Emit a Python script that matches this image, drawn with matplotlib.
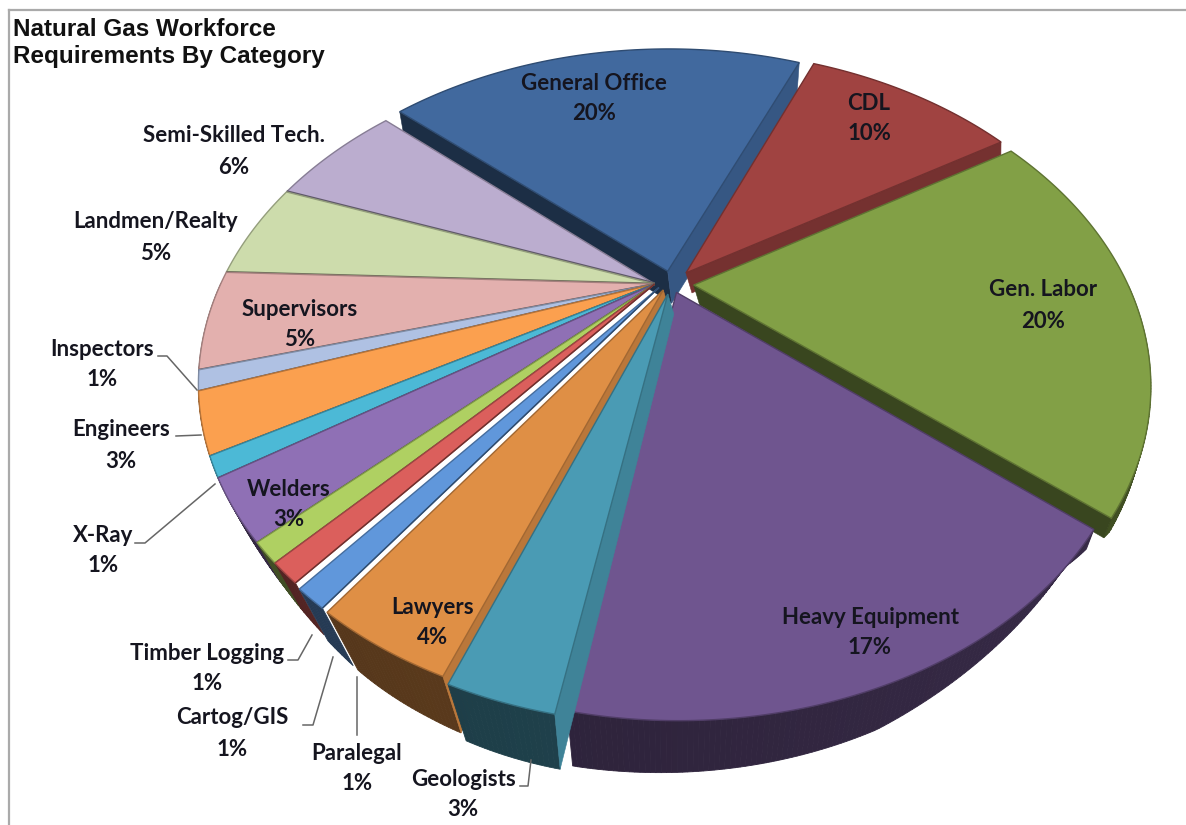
import numpy as np
import matplotlib
matplotlib.use("Agg")
import matplotlib.pyplot as plt
from matplotlib.patches import Polygon
from matplotlib.colors import to_rgb

# ---- data ----
categories = ["General Office", "CDL", "Gen. Labor", "Heavy Equipment", "Geologists", "Lawyers",
              "Paralegal", "Cartog/GIS", "Timber Logging", "Welders", "X-Ray", "Engineers",
              "Inspectors", "Supervisors", "Landmen/Realty", "Semi-Skilled Tech."]
values = [20, 10, 20, 17, 3, 4, 1, 1, 1, 3, 1, 3, 1, 5, 5, 6]
title = "Natural Gas Workforce\nRequirements By Category"

# ---- styles and layout ----
colors = ["#41699E", "#A04341", "#82A046", "#6F558F", "#4A9BB4", "#DF8F45", "#6097DB", "#DB5F5C",
          "#AFD062", "#8F70B5", "#4CB9D6", "#FBA04F", "#AFC1E3", "#E3B0AE", "#CDDCAC", "#BBADCF"]
explode = [0.045, 0.05, 0.05, 0.03, 0.035, 0.0, 0, 0, 0, 0, 0, 0, 0, 0, 0, 0]
has_faces = [True, True, True, True, True, True] + [False] * 10
# the joined small slices sit together left of centre
group_offset = (-0.04, 0.0)
slice_offsets = {"Lawyers": (-0.02, -0.02), "Paralegal": (-0.03, -0.012)}
edge_widths = [1, 1, 1, 1, 1, 1, 1, 1, 1, 1, 1, 1, 1.2, 1.5, 2.0, 2.6]
start_angle = -48.5
top_plane = dict(cx=672.0, cy=284.0, R=434.0, B=295.0, k=0.297)
# how far the underside of the pie shows below the top face, by angle round the pie
depth_angle = [-50, 25, 60, 128, 135, 160, 190, 205, 215, 225, 238, 245, 320]
depth_dx = [4, -3, 0, -8, -6, -10, 5, 23, 31, 25, 5, 0, 4]
depth_dy = [22, 40, 12, 24, 6, 45, 55, 57, 58, 42, 10, 0, 22]
apex_depths = [(4, 32)] + [(6, 20)] * 4 + [(3, 10)] * 11
label_pos = [(594, 83, 113), (869, 103, 133), (1043, 290, 321), (870, 618, 648), (463, 779, 810),
             (433, 608, 638), (357, 753, 784), (232, 718, 749), (207, 653, 683), (289, 490, 520),
             (103, 535, 566), (121, 430, 461), (102, 349, 380), (300, 309, 339), (156, 222, 253),
             (234, 136, 167)]
leaders = [[(158, 356), (167, 356), (197, 390)], [(176, 436), (201, 435)],
           [(135, 543), (145, 543), (215, 484)], [(288, 660), (298, 660), (312, 635)],
           [(303, 725), (313, 725), (333, 657)], [(357, 735), (357, 677)],
           [(520, 786), (528, 786), (531, 760)]]


def project(x, y, p):
    w = 1 + p["k"] * y
    return np.column_stack([p["cx"] + p["R"] * x / w, p["cy"] - p["B"] * y / w])


def underside(pts, deg):
    wrapped = (np.asarray(deg) + 50) % 360 - 50
    return pts + np.column_stack([np.interp(wrapped, depth_angle, depth_dx),
                                  np.interp(wrapped, depth_angle, depth_dy)])


def shade(c, f):
    return tuple(np.array(to_rgb(c)) * f)


fig = plt.figure(figsize=(11.86, 8.25), dpi=100, facecolor="white")
ax = fig.add_axes([0, 0, 1, 1])
ax.set_xlim(0, 1186)
ax.set_ylim(825, 0)
ax.axis("off")

shares = np.array(values, float) / np.sum(values) * 360
edges = start_angle + np.concatenate([[0], np.cumsum(shares)])
mids = (edges[:-1] + edges[1:]) / 2

# far slices first, near slices last
order = np.argsort(-np.cos(np.radians(mids)))
for i in order:
    a0, a1 = edges[i], edges[i + 1]
    m = np.radians(mids[i])
    if explode[i] > 0:
        ox, oy = explode[i] * np.sin(m), explode[i] * np.cos(m)
    else:
        ox, oy = slice_offsets.get(categories[i], group_offset)
    deg = np.linspace(a0, a1, max(8, int(a1 - a0) * 2))
    t = np.radians(deg)
    top_rim = project(ox + np.sin(t), oy + np.cos(t), top_plane)
    base_rim = underside(top_rim, deg)
    top_apex = project(np.array([ox]), np.array([oy]), top_plane)
    base_apex = top_apex + np.array(apex_depths[i])
    c = colors[i]
    # outer wall (front of the pie only), in narrow strips so it shades along the rim
    for j in range(len(t) - 1):
        if np.cos(t[j]) < 0:
            f = 0.43 + 0.08 * np.sin(t[j])
            ax.add_patch(Polygon([top_rim[j], top_rim[j + 1], base_rim[j + 1], base_rim[j]],
                                 closed=True, fc=shade(c, f), ec=shade(c, f), lw=0.6, zorder=2))
    # visible cut faces of the pulled-out slices
    if has_faces[i]:
        for idx, nrm in ((0, t[0] - np.pi / 2), (-1, t[-1] + np.pi / 2)):
            if np.cos(nrm) < 0:
                f = 0.6 + 0.25 * np.sin(nrm)
                ax.add_patch(Polygon([top_apex[0], top_rim[idx], base_rim[idx], base_apex[0]],
                                     closed=True, fc=shade(c, f), ec=shade(c, f), lw=0.4, zorder=2))
    ax.add_patch(Polygon(np.vstack([top_apex, top_rim]), closed=True, fc=c,
                         ec=shade(c, 0.72), lw=1.0, zorder=2))
    # darker seam along the first edge of the joined slices
    if not has_faces[i]:
        ax.plot([top_apex[0, 0], top_rim[0, 0]], [top_apex[0, 1], top_rim[0, 1]],
                color=shade(c, 0.5), lw=edge_widths[i], zorder=2, solid_capstyle="butt")

for (name, v, (x, y1, y2)) in zip(categories, values, label_pos):
    ax.text(x, y1, name, ha="center", va="center", family="Lato", weight="bold",
            fontsize=16, color="#15151f", zorder=5)
    ax.text(x, y2, f"{v}%", ha="center", va="center", family="Lato", weight="bold",
            fontsize=16, color="#15151f", zorder=5)

for pts in leaders:
    arr = np.array(pts)
    ax.plot(arr[:, 0], arr[:, 1], color="#666666", lw=1.1, zorder=4)

ax.text(13, 43, title, ha="left", va="center", family="Liberation Sans", weight="bold",
        fontsize=17.5, linespacing=1.25, color="#111111", zorder=5)

# chart frame
ax.plot([9, 9], [825, 10], color="#aaaaaa", lw=1.6, zorder=1)
ax.plot([9, 1186], [10, 10], color="#aaaaaa", lw=1.6, zorder=1)

fig.savefig("out.png", dpi=100)
